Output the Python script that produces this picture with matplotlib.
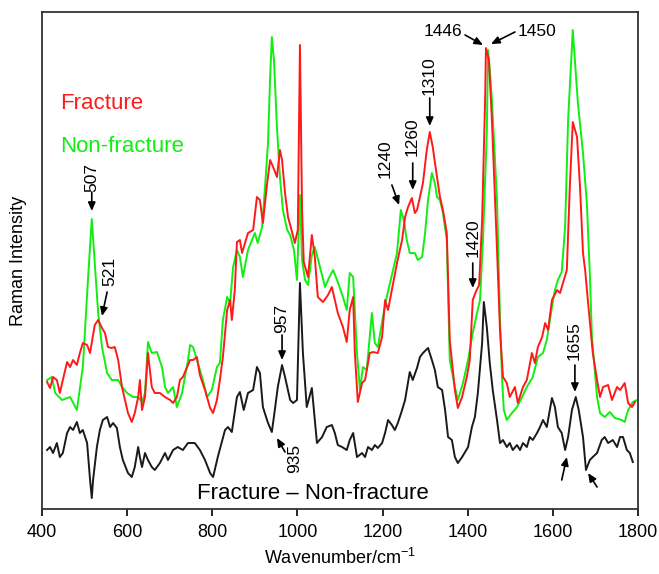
import matplotlib
matplotlib.use("Agg")
import matplotlib.pyplot as plt

plt.rcParams['font.family'] = ['Liberation Sans', 'DejaVu Sans']
plt.rcParams['mathtext.default'] = 'regular'

# ---------------- data (wavenumber in cm-1, intensity in arbitrary units) -------------
nonfracture_wn = [412, 423, 431, 447, 466, 482, 496, 508, 517, 524, 532, 541, 553, 564, 579, 588, 600, 614, 626, 635,
                  642, 649, 658, 670, 682, 689, 696, 708, 717, 729, 743, 748, 755, 764, 778, 788, 799, 811, 818, 825,
                  835, 842, 849, 858, 865, 872, 884, 900, 907, 917, 924, 931, 936, 940, 945, 952, 959, 966, 976, 983,
                  992, 999, 1006, 1011, 1018, 1025, 1034, 1041, 1053, 1065, 1074, 1084, 1095, 1107, 1116, 1123, 1131,
                  1140, 1147, 1154, 1163, 1175, 1182, 1189, 1201, 1210, 1222, 1234, 1243, 1250, 1257, 1264, 1276, 1283,
                  1293, 1300, 1307, 1316, 1323, 1328, 1335, 1342, 1351, 1358, 1370, 1377, 1389, 1401, 1412, 1422, 1429,
                  1436, 1445, 1448, 1452, 1457, 1469, 1476, 1481, 1485, 1492, 1504, 1516, 1528, 1539, 1553, 1565, 1577,
                  1586, 1598, 1605, 1612, 1621, 1629, 1636, 1647, 1659, 1671, 1680, 1687, 1692, 1704, 1711, 1722, 1734,
                  1746, 1762, 1769, 1777, 1788, 1798]
nonfracture_int = [129, 132, 116, 109, 112, 99, 142, 229, 290, 246, 196, 162, 136, 129, 129, 122, 116, 112, 112, 107,
                   116, 167, 156, 157, 142, 122, 116, 122, 102, 116, 149, 164, 162, 149, 129, 112, 119, 142, 146, 189,
                   212, 206, 242, 259, 252, 232, 259, 276, 266, 282, 322, 366, 432, 472, 449, 382, 332, 299, 279, 274,
                   259, 229, 314, 249, 229, 224, 254, 262, 242, 222, 231, 239, 227, 212, 199, 236, 232,
                   156, 119, 142, 139, 196, 166, 162, 192, 212, 234, 256, 299, 289, 269, 256, 256, 249,
                   252, 276, 309, 336, 326, 312, 309, 296, 269, 149, 122, 109, 126, 149, 176, 196, 209,
                   269, 376, 459, 439, 409, 309, 189, 129, 99, 89, 96, 102, 112, 122, 132, 152, 156,
                   169, 202, 219, 229, 237, 282, 389, 479, 406, 356, 306, 236, 172, 112, 96, 92, 97,
                   91, 89, 87, 99, 107, 109]

fracture_wn = [412, 419, 426, 435, 442, 449, 459, 466, 473, 482, 489, 496, 506, 513, 524, 532, 541, 548, 555, 564,
               571, 579, 588, 595, 602, 611, 618, 626, 630, 635, 642, 649, 658, 665, 677, 689, 701, 708, 717, 724,
               731, 741, 748, 755, 764, 771, 783, 795, 802, 811, 818, 825, 835, 842, 846, 853, 858, 865, 870, 877,
               884, 896, 905, 912, 919, 929, 936, 943, 952, 959, 964, 971, 978, 985, 994, 1001, 1006, 1011, 1015,
               1025, 1034, 1041, 1048, 1060, 1072, 1081, 1088, 1095, 1107, 1116, 1123, 1131, 1135, 1142, 1152, 1159,
               1170, 1178, 1189, 1199, 1206, 1213, 1222, 1234, 1246, 1253, 1260, 1269, 1276, 1281, 1288, 1295, 1304,
               1311, 1318, 1328, 1335, 1342, 1351, 1358, 1370, 1377, 1387, 1398, 1405, 1412, 1419, 1427, 1434, 1441,
               1443, 1450, 1457, 1469, 1476, 1483, 1492, 1499, 1511, 1518, 1530, 1539, 1551, 1558, 1565, 1575, 1582,
               1589, 1598, 1610, 1617, 1624, 1633, 1640, 1647, 1657, 1664, 1671, 1676, 1683, 1694, 1704, 1711, 1718,
               1730, 1739, 1751, 1758, 1769, 1777, 1786, 1793]
fracture_int = [127, 121, 132, 129, 116, 129, 147, 142, 149, 144, 156, 166, 164, 156, 184, 189, 181, 176, 162, 161,
                162, 149, 122, 109, 96, 87, 96, 112, 129, 99, 112, 156, 122, 116, 116, 112, 109, 106, 112, 129,
                132, 142, 149, 149, 152, 134, 119, 101, 96, 109, 129, 152, 199, 209, 189, 219, 267, 269, 256, 266,
                276, 279, 312, 309, 286, 326, 349, 342, 332, 359, 349, 316, 292, 281, 266, 279, 464, 299, 247,
                232, 274, 252, 212, 207, 214, 222, 209, 196, 182, 167, 199, 212, 156, 107, 126, 129,
                156, 157, 156, 172, 209, 199, 219, 246, 269, 292, 302, 311, 296, 299, 312, 326, 359,
                377, 362, 332, 312, 299, 276, 169, 119, 101, 112, 132, 149, 209, 217, 224, 289, 409,
                461, 449, 389, 259, 179, 132, 126, 112, 122, 106, 122, 129, 156, 146, 162, 172, 186,
                179, 209, 219, 216, 226, 239, 322, 387, 372, 322, 256, 239, 206, 156, 129, 112, 122,
                124, 109, 122, 119, 126, 106, 102, 107]

difference_wn = [412, 419, 426, 435, 442, 449, 459, 466, 473, 482, 489, 496, 506, 513, 517, 520, 529, 536, 543, 553,
                 560, 567, 576, 583, 590, 602, 611, 618, 626, 630, 635, 642, 649, 658, 665, 677, 689, 696, 708, 719,
                 731, 743, 759, 771, 783, 795, 802, 813, 830, 837, 846, 858, 865, 874, 884, 896, 905, 912, 919, 931,
                 940, 947, 954, 964, 971, 983, 990, 999, 1006, 1013, 1022, 1034, 1041, 1046, 1058, 1069, 1081, 1088,
                 1095, 1105, 1116, 1123, 1131, 1140, 1152, 1159, 1166, 1175, 1182, 1189, 1199, 1206, 1213, 1222, 1229,
                 1236, 1246, 1253, 1264, 1271, 1281, 1288, 1295, 1307, 1316, 1323, 1330, 1340, 1347, 1354, 1363, 1370,
                 1377, 1387, 1394, 1401, 1410, 1417, 1424, 1434, 1438, 1445, 1452, 1459, 1469, 1476, 1483, 1492, 1499,
                 1506, 1516, 1523, 1530, 1539, 1546, 1553, 1563, 1570, 1577, 1586, 1598, 1605, 1612, 1621, 1629, 1636,
                 1645, 1654, 1661, 1671, 1678, 1687, 1694, 1704, 1715, 1722, 1730, 1741, 1751, 1758, 1765, 1774, 1781,
                 1788]
difference_int = [59, 62, 56, 66, 52, 56, 76, 82, 79, 87, 76, 79, 66, 29, 11, 29, 62, 79, 89, 92,
                  82, 86, 81, 62, 49, 36, 32, 42, 62, 52, 42, 56, 49, 42, 39, 46, 56, 49, 59, 62,
                  59, 66, 66, 59, 49, 36, 32, 52, 79, 82, 77, 112, 117, 99, 116, 119, 142, 136, 102, 86,
                  77, 99, 122, 144, 132, 109, 106, 109, 226, 156, 102, 121, 89, 66, 72, 82, 84, 76,
                  64, 62, 59, 69, 76, 52, 56, 52, 62, 59, 64, 61, 66, 76, 89, 84, 79,
                  86, 99, 109, 137, 129, 141, 152, 156, 161, 149, 139, 122, 119, 99, 72, 69, 52,
                  46, 52, 57, 62, 82, 92, 116, 166, 207, 182, 146, 119, 89, 66, 69, 62, 66,
                  59, 64, 59, 66, 62, 72, 69, 76, 82, 89, 82, 111, 102, 82, 76, 59, 72,
                  99, 112, 99, 72, 39, 49, 52, 56, 69, 72, 66, 69, 62, 72, 72, 59, 56,
                  47]

# peak labels: (label, text x, text y, rotation, arrow tail x, tail y, arrow tip x, tip y)
peak_labels = [
    ("507", 517, 332, 90, 517, 317, 517, 298),
    ("521", 560, 238, 90, 553, 217, 541, 193),
    ("1240", 1206, 350, 90, 1222, 324, 1239, 304),
    ("1260", 1269, 372, 90, 1271, 346, 1271, 319),
    ("1310", 1309, 433, 90, 1311, 411, 1311, 383),
    ("1420", 1412, 271, 90, 1412, 246, 1412, 221),
    ("1446", 1342, 477, 0, 1394, 474, 1436, 464),
    ("1450", 1563, 477, 0, 1511, 477, 1455, 465),
    ("957", 964, 191, 90, 964, 174, 964, 149),
    ("935", 994, 51, 90, 971, 57, 952, 71),
    ("1655", 1650, 168, 90, 1652, 144, 1652, 117),
    ("", 0, 0, 0, 1621, 29, 1633, 52),
    ("", 0, 0, 0, 1704, 22, 1683, 36),
]

xticks = [400, 600, 800, 1000, 1200, 1400, 1600, 1800]

# ---------------- figure ----------------
fig = plt.figure(figsize=(6.59, 5.74), dpi=100)
ax = fig.add_axes([0.0637, 0.1132, 0.9043, 0.8659])

green = '#11ee11'
red = '#ff1a1a'
ax.plot(nonfracture_wn, nonfracture_int, color=green, lw=1.4)
ax.plot(fracture_wn, fracture_int, color=red, lw=1.4)
ax.plot(difference_wn, difference_int, color='#1a1a1a', lw=1.4)

ax.set_xlim(400, 1800)
ax.set_ylim(0, 497)
ax.set_xticks(xticks)
ax.set_xticklabels([str(t) for t in xticks], fontsize=13)
ax.set_yticks([])
ax.tick_params(axis='x', direction='out', length=5, width=1.2, pad=6)
for s in ax.spines.values():
    s.set_linewidth(1.3)
    s.set_color('#333333')

ax.set_xlabel('Wavenumber/cm$^{-1}$', fontsize=13, labelpad=5)
ax.set_ylabel('Raman Intensity', fontsize=13, labelpad=11)

ax.text(442, 406, 'Fracture', color=red, fontsize=16, va='center', ha='left')
ax.text(442, 363, 'Non-fracture', color=green, fontsize=16, va='center', ha='left')
ax.text(764, 16, 'Fracture \u2013 Non-fracture', color='black', fontsize=16, va='center', ha='left')

for lab, tx, ty, rot, ax0, ay0, ax1, ay1 in peak_labels:
    if lab:
        ax.text(tx, ty, lab, fontsize=12.5, rotation=rot, ha='center', va='center', color='black')
    ax.annotate('', xy=(ax1, ay1), xytext=(ax0, ay0),
                arrowprops=dict(arrowstyle='-|>,head_length=0.5,head_width=0.22', color='black',
                                lw=1.2, shrinkA=0, shrinkB=0))

fig.savefig('out.png', dpi=100)
